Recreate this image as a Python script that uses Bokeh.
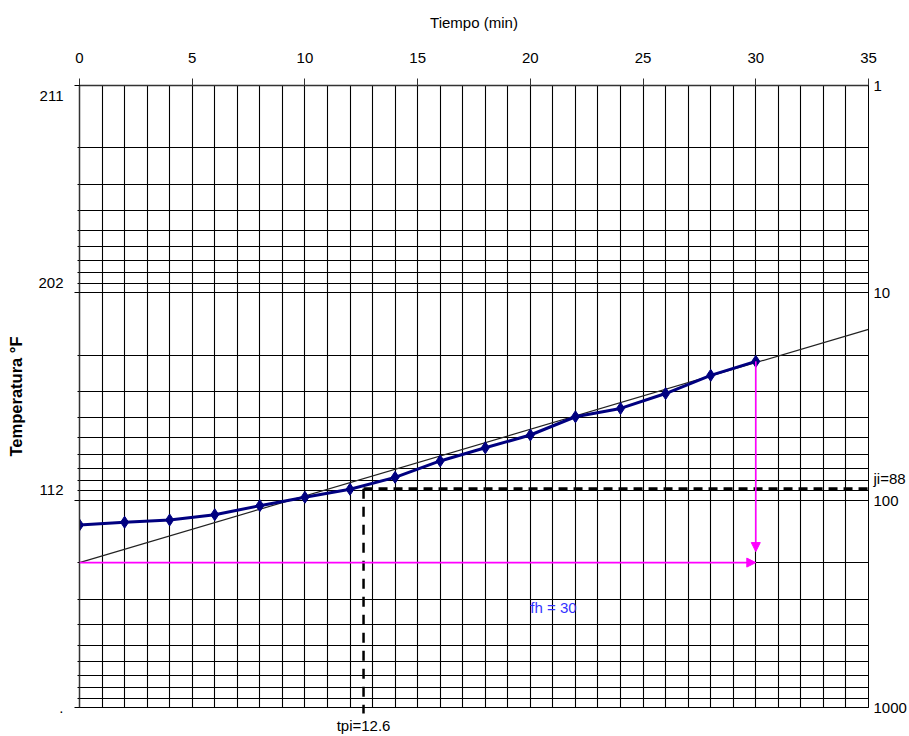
from bokeh.plotting import figure
from bokeh.models import Range1d, LogAxis, LinearAxis, FixedTicker, Label, Arrow, NormalHead, ColumnDataSource
from bokeh.embed import file_html
from bokeh.resources import INLINE

# ---- data ----
time_min = [0, 2, 4, 6, 8, 10, 12, 14, 16, 18, 20, 22, 24, 26, 28, 30]
g_values = [131.7, 127.8, 124.6, 117.5, 106.3, 96.8, 88.6, 77.6,
            64.7, 55.9, 48.5, 39.6, 36.1, 30.6, 25.0, 21.4]
fit_x = [0, 35]
fit_y = [200, 15]
x_ticks = [0, 5, 10, 15, 20, 25, 30, 35]
decades = [1, 10, 100, 1000]
right_labels = ["1", "10", "100", "1000"]
left_labels = [" \n211", "202\n ", "112\n ", "."]
tpi = 12.6
ji = 88
fh = 30
fh_base = 200
fh_arrow_end = 177

FONT = "Liberation Sans"
FS = "15px"

log_grid = [m * d for d in [1, 10, 100] for m in range(1, 10)] + [1000]

p = figure(width=909, height=736, x_range=Range1d(0, 35), y_range=Range1d(1000, 1),
           y_axis_type="log", x_axis_location="above", output_backend="svg",
           toolbar_location=None, min_border_left=79, min_border_right=39,
           min_border_top=85, min_border_bottom=28)
p.background_fill_color = "white"
p.border_fill_color = "white"
p.outline_line_color = "black"
p.outline_line_width = 1

# grids
p.xgrid.ticker = FixedTicker(ticks=list(range(0, 36)))
p.ygrid.ticker = FixedTicker(ticks=log_grid)
for g in (p.xgrid[0], p.ygrid[0]):
    g.grid_line_color = "black"
    g.grid_line_alpha = 1.0
    g.grid_line_width = 1.1

# top axis
xa = p.xaxis[0]
xa.ticker = FixedTicker(ticks=x_ticks, minor_ticks=[])
xa.axis_label = "Tiempo (min)"
xa.axis_label_text_font = FONT
xa.axis_label_text_font_size = FS
xa.axis_label_text_font_style = "normal"
xa.axis_label_text_color = "black"
xa.axis_label_standoff = 19
xa.major_label_text_font = FONT
xa.major_label_text_font_size = FS
xa.major_label_text_color = "black"
xa.major_label_standoff = 16
xa.major_tick_out = 7
xa.major_tick_in = 0
xa.minor_tick_out = 0
xa.minor_tick_in = 0
xa.axis_line_color = "#333333"
xa.axis_line_width = 1.5
xa.major_tick_line_color = "#333333"

# left axis
ya = p.left[0]
ya.ticker = FixedTicker(ticks=decades, minor_ticks=log_grid)
ya.major_label_overrides = {d: lab for d, lab in zip(decades, left_labels)}
ya.axis_label = "Temperatura °F"
ya.axis_label_text_font = FONT
ya.axis_label_text_font_size = "16.5px"
ya.axis_label_text_font_style = "bold"
ya.axis_label_text_color = "black"
ya.axis_label_standoff = 10
ya.major_label_text_font = FONT
ya.major_label_text_font_size = FS
ya.major_label_text_color = "black"
ya.major_label_standoff = 11
ya.major_tick_out = 5
ya.major_tick_in = 0
ya.minor_tick_out = 2
ya.minor_tick_in = 0
ya.axis_line_color = "#333333"
ya.axis_line_width = 1.5

# right axis (decade labels plus the ji mark)
right_ticks = decades + [ji]
right_over = {d: lab for d, lab in zip(decades, right_labels)}
right_over[ji] = "ji=88\n "
ra = LogAxis(ticker=FixedTicker(ticks=right_ticks, minor_ticks=[]))
ra.major_label_overrides = right_over
ra.major_label_text_font = FONT
ra.major_label_text_font_size = FS
ra.major_label_text_color = "black"
ra.major_label_standoff = 5
ra.major_tick_out = 0
ra.major_tick_in = 0
ra.minor_tick_out = 0
ra.minor_tick_in = 0
ra.axis_line_color = "black"
p.add_layout(ra, "right")

# bottom axis carrying only the tpi mark
ba = LinearAxis(ticker=FixedTicker(ticks=[tpi], minor_ticks=[]))
ba.major_label_overrides = {tpi: "tpi=12.6"}
ba.major_label_text_font = FONT
ba.major_label_text_font_size = FS
ba.major_label_text_color = "black"
ba.major_label_standoff = 3
ba.major_tick_out = 6
ba.major_tick_in = 0
ba.major_tick_line_width = 2.5
ba.major_tick_line_color = "black"
ba.minor_tick_out = 0
ba.minor_tick_in = 0
ba.axis_line_color = None
p.add_layout(ba, "below")

# fitted straight line
p.line(fit_x, fit_y, line_color="#222222", line_width=1.2)

# dashed construction lines
p.line([tpi, 35], [ji, ji], line_color="black", line_width=3, line_dash="9 6")
p.line([tpi, tpi], [ji, 1000], line_color="black", line_width=2.5, line_dash="10 8")

# magenta arrows
p.add_layout(Arrow(x_start=0, y_start=fh_base, x_end=fh, y_end=fh_base,
                   line_color="#FF00FF", line_width=1.6,
                   end=NormalHead(size=9, fill_color="#FF00FF", line_color="#FF00FF")))
p.add_layout(Arrow(x_start=fh, y_start=g_values[-1], x_end=fh, y_end=fh_arrow_end,
                   line_color="#FF00FF", line_width=1.6,
                   end=NormalHead(size=9, fill_color="#FF00FF", line_color="#FF00FF")))

# data series
src = ColumnDataSource(dict(t=time_min, g=g_values))
p.line("t", "g", source=src, line_color="#000080", line_width=3)
p.scatter("t", "g", source=src, marker="diamond", size=12,
          fill_color="#000080", line_color="#000080")

# annotation text inside the plot
p.add_layout(Label(x=20, y=331, text="fh = 30", text_font=FONT, text_font_size=FS,
                   text_color="#3333FF", text_baseline="middle", text_align="left"))

open("out.html", "w").write(file_html(p, INLINE))
